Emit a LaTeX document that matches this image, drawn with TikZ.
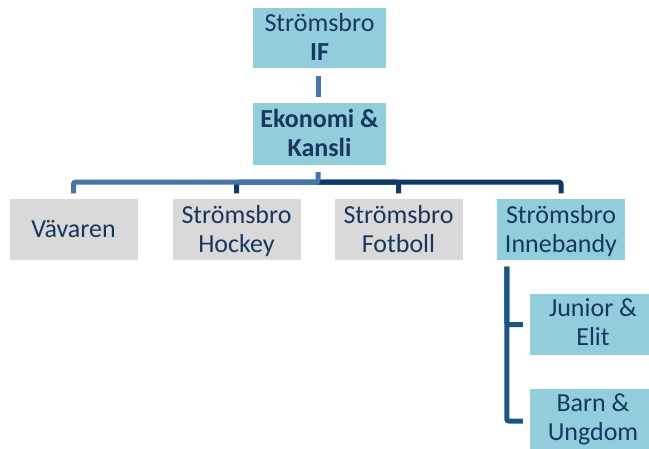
\documentclass[tikz,border=0pt]{standalone}
\usepackage{fontspec}
\setmainfont{Carlito}
\usetikzlibrary{calc}
\definecolor{boxblue}{HTML}{92CDDC}
\definecolor{boxgray}{HTML}{D9D9D9}
\definecolor{txt}{HTML}{17375E}
\definecolor{linelight}{HTML}{4673A8}
\definecolor{linedark}{HTML}{0D3868}
\definecolor{linemid}{HTML}{1A5585}
\tikzset{
  orgbox/.style={rectangle, inner sep=0pt, minimum width=128pt, minimum height=61pt,
    align=center, text=txt, font=\fontsize{26}{29}\selectfont, text depth=0pt},
  bluebox/.style={orgbox, fill=boxblue},
  graybox/.style={orgbox, fill=boxgray},
  conn/.style={line width=5pt, rounded corners=2pt}
}
\begin{document}
\begin{tikzpicture}[x=1pt,y=1pt]
\useasboundingbox (0,0) rectangle (649,-448);
\clip (0,0) rectangle (649,-448);
\node[bluebox, minimum width=133pt, minimum height=60pt, text height=44pt] (top) at (319.5,-38) {Strömsbro\\\textbf{IF}};
\node[bluebox, minimum width=133pt, minimum height=62pt, text height=44pt, font=\fontsize{26}{29}\selectfont\bfseries] (eko) at (319.5,-134) {Ekonomi \&\\Kansli};
\node[graybox, text height=16pt] (vav) at (73.5,-229) {Vävaren};
\node[graybox, text height=47pt] (hoc) at (236.5,-229) {Strömsbro\\Hockey};
\node[graybox, text height=47pt] (fot) at (398.5,-229) {Strömsbro\\Fotboll};
\node[bluebox, text height=47pt] (inn) at (561,-229) {Strömsbro\\Innebandy};
\node[bluebox, minimum width=126pt, text height=41pt] (jun) at (593,-324.5) {Junior \&\\Elit};
\node[bluebox, minimum width=126pt, text height=41pt] (barn) at (593,-419.5) {Barn \&\\Ungdom};
% connectors
\draw[conn, linelight] ($(top.south)+(-1.5,-8)$) -- ($(eko.north)+(-1.5,6)$);
\coordinate (hub) at ($(eko.south)+(-1.5,-17)$);
\draw[conn, linedark] (hub) -| ($(hoc.north)+(0,5)$);
\draw[conn, linedark] (hub) -| ($(fot.north)+(0,5)$);
\draw[conn, linedark] (hub) -| ($(inn.north)+(0,5)$);
\draw[conn, linelight] ($(eko.south)+(-1.5,-7)$) -- (hub) -| ($(vav.north)+(0,5)$);
\coordinate (ib) at ($(inn.south west)+(10,-7)$);
\draw[conn, linemid] (ib) |- ($(jun.west)+(-7,0)$);
\draw[conn, linemid] (ib) |- ($(barn.west)+(-7,-1.5)$);
\end{tikzpicture}
\end{document}
